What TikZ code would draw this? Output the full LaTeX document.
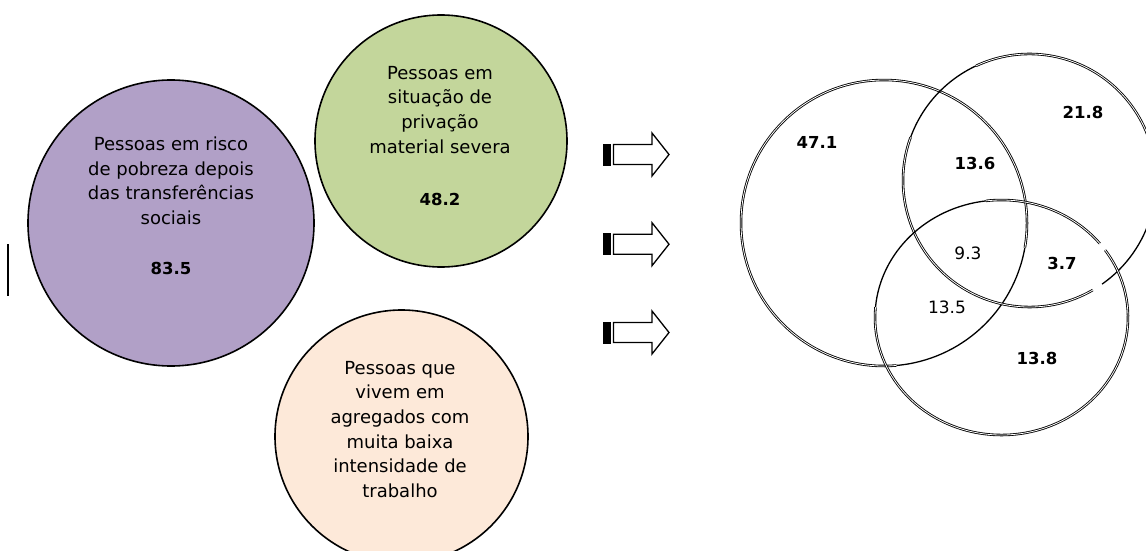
\documentclass[tikz,border=0pt]{standalone}
\usepackage{fontspec}
\setmainfont{DejaVu Sans}
\definecolor{cpurple}{HTML}{B1A0C7}
\definecolor{cgreen}{HTML}{C3D69B}
\definecolor{cpeach}{HTML}{FDE9D9}
\tikzset{
  setcircle/.style={circle, draw=black, line width=1.6pt, inner sep=0pt},
  lbl/.style={align=center, inner sep=0pt, text=black, font=\fontsize{18}{24.7}\selectfont},
  numb/.style={inner sep=0pt, text=black, font=\fontsize{16.5}{20}\selectfont\bfseries},
  numr/.style={inner sep=0pt, text=black, font=\fontsize{17}{20}\selectfont},
  vdbl/.style={line width=0.85pt, double=white, double distance=0.8pt},
  vsgl/.style={line width=1.3pt},
  arrowbody/.style={draw=black, fill=white, line width=1.3pt, line join=miter},
}
\begin{document}
\begin{tikzpicture}[x=1pt, y=-1pt]
\useasboundingbox (0,0) rectangle (1146,551);
\clip (0,0) rectangle (1146,551);

% left vertical bar
\coordinate (v1) at (7.5,244);
\coordinate (v2) at (7.5,296);
\draw[line width=2pt] (v1) -- (v2);

% three set circles
\node[setcircle, fill=cpurple, minimum size=286pt] (risk) at (171,223) {};
\node[setcircle, fill=cgreen, minimum size=252pt] (depr) at (441,141) {};
\node[setcircle, fill=cpeach, minimum size=253pt] (work) at (401.5,436.5) {};

\node[lbl] (risktxt) at (171,180.9) {Pessoas em risco\\de pobreza depois\\das transferências\\sociais};
\node[numb] (risknum) at (171,268.3) {83.5};
\node[lbl] (deprtxt) at (440,109.8) {Pessoas em\\situação de\\privação\\material severa};
\node[numb] (deprnum) at (440,199) {48.2};
\node[lbl] (worktxt) at (400,429.5) {Pessoas que\\vivem em\\agregados com\\muita baixa\\intensidade de\\trabalho};

% striped arrows
\foreach \yy in {154.5, 244.2, 332.5}{
  \pgfmathsetmacro{\ya}{\yy-11}
  \pgfmathsetmacro{\yb}{\yy+11}
  \pgfmathsetmacro{\yc}{\yy-10}
  \pgfmathsetmacro{\yd}{\yy+10}
  \pgfmathsetmacro{\ye}{\yy-21.5}
  \pgfmathsetmacro{\yf}{\yy+21.5}
  \fill[black] (603,\ya) rectangle (610.5,\yb);
  \draw[arrowbody] (613.5,\yc) -- (652,\yc) -- (652,\ye) -- (669,\yy)
     -- (652,\yf) -- (652,\yd) -- (613.5,\yd) -- cycle;
}

% Venn diagram
\coordinate (cA) at (884,223);
\coordinate (cB) at (1029.5,180.5);
\coordinate (cC) at (1001.5,317.5);

% circle A (risk)
\draw[vsgl] (cA) ++(10:143) arc[start angle=10, end angle=85, radius=143];
\draw[vdbl] (cA) ++(85:143) arc[start angle=85, end angle=370, radius=143];
% circle B (deprivation)
\draw[vdbl] (cB) ++(-115:126.5) arc[start angle=-115, end angle=15, radius=126.5];
\draw[vsgl] (cB) ++(15:126.5) arc[start angle=15, end angle=55, radius=126.5];
\draw[vdbl] (cB) ++(60:126.5) arc[start angle=60, end angle=200, radius=126.5];
\draw[vsgl] (cB) ++(200:126.5) arc[start angle=200, end angle=245, radius=126.5];
% ellipse C (work intensity)
\draw[vsgl] (cC) ++(185:126.5 and 117.5) arc[start angle=185, end angle=263, x radius=126.5, y radius=117.5];
\draw[vdbl] (cC) ++(263:126.5 and 117.5) arc[start angle=263, end angle=321, x radius=126.5, y radius=117.5];
\draw[vdbl] (cC) ++(-35:126.5 and 117.5) arc[start angle=-35, end angle=185, x radius=126.5, y radius=117.5];

\node[numb] (n471) at (817,142) {47.1};
\node[numb] (n218) at (1083,112) {21.8};
\node[numb] (n136) at (975,163) {13.6};
\node[numr] (n93) at (968,253) {9.3};
\node[numb] (n37) at (1062,263) {3.7};
\node[numr] (n135) at (947,307) {13.5};
\node[numb] (n138) at (1037,358) {13.8};
\end{tikzpicture}
\end{document}
